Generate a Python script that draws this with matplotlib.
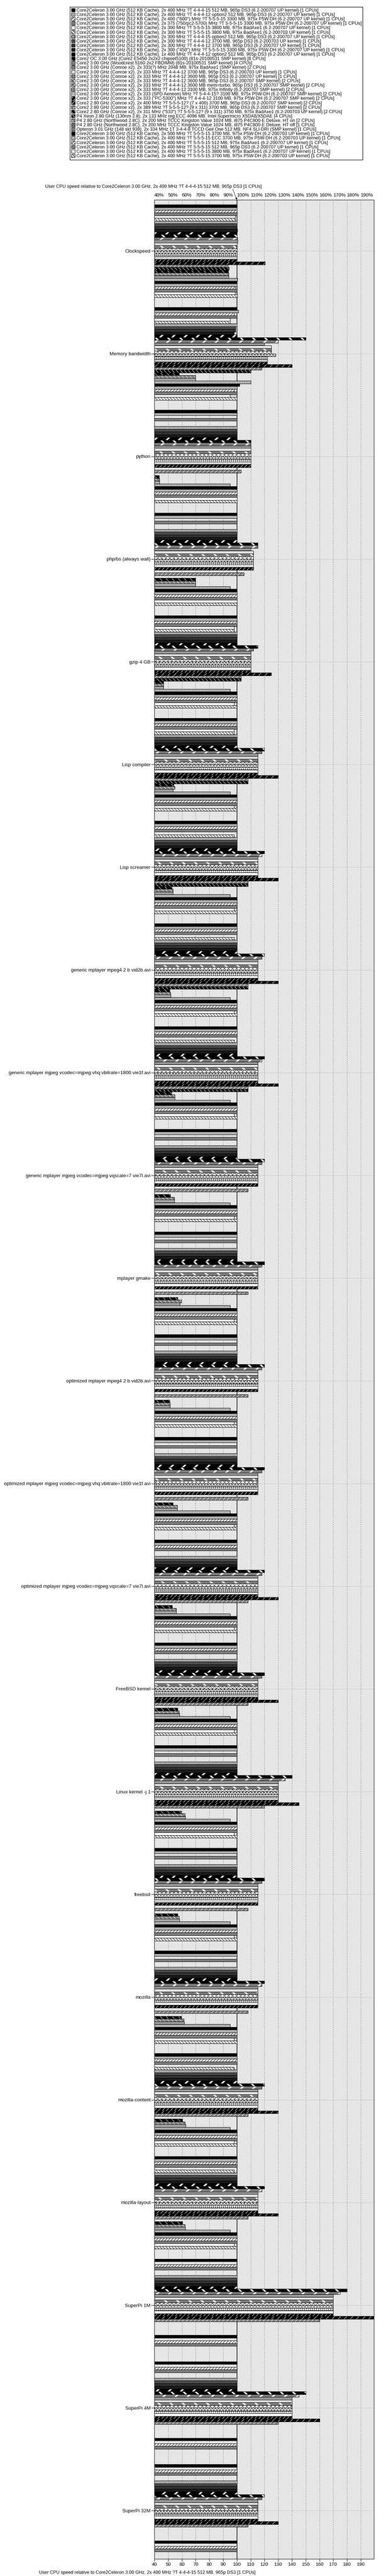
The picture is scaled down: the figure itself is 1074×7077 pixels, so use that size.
import numpy as np
import matplotlib.pyplot as plt
from matplotlib.patches import Patch
from matplotlib.legend_handler import HandlerTuple

plt.rcParams['font.family'] = ['Liberation Sans', 'DejaVu Sans']

systems = [
    'Core2Celeron 3.00 GHz (512 KB Cache), 2x 400 MHz ?T 4-4-4-15 512 MB, 965p DS3 (6.2-200707 UP kernel) [1 CPUs]',
    'Core2Celeron 3.00 GHz (512 KB Cache), 2x 400 MHz ?T 4-4-4-12 option2 512 MB, 965p DS3 (6.2-200707 UP kernel) [1 CPUs]',
    'Core2Celeron 3.00 GHz (512 KB Cache), 2x 400 ("600") MHz ?T 5-5-5-15 3300 MB, 975x P5W-DH (6.2-200707 UP kernel) [1 CPUs]',
    'Core2Celeron 3.00 GHz (512 KB Cache), 2x 375 (750/pc2-5700) MHz ?T 5-5-5-15 3300 MB, 975x P5W-DH (6.2-200707 UP kernel) [1 CPUs]',
    'Core2Celeron 3.00 GHz (512 KB Cache), 2x 300 MHz ?T 5-5-5-15 3800 MB, 975x BadAxe1 (6.2-200707 UP kernel) [1 CPUs]',
    'Core2Celeron 3.00 GHz (512 KB Cache), 2x 300 MHz ?T 5-5-5-15 3800 MB, 975x BadAxe1 (6.2-200703 UP kernel) [1 CPUs]',
    'Core2Celeron 3.00 GHz (512 KB Cache), 2x 300 MHz ?T 4-4-4-15 option2 512 MB, 965p DS3 (6.2-200707 UP kernel) [1 CPUs]',
    'Core2Celeron 3.00 GHz (512 KB Cache), 2x 300 MHz ?T 4-4-4-12 3700 MB, 965p DS3 (6.2-200703 UP kernel) [1 CPUs]',
    'Core2Celeron 3.00 GHz (512 KB Cache), 2x 300 MHz ?T 4-4-4-12 3700 MB, 965p DS3 (6.2-200707 UP kernel) [1 CPUs]',
    'Core2Celeron 3.00 GHz (512 KB Cache), 2x 300 ("450") MHz ?T 5-5-5-15 3300 MB, 975x P5W-DH (6.2-200707 UP kernel) [1 CPUs]',
    'Core2Celeron 3.00 GHz (512 KB Cache), 1x 400 MHz ?T 4-4-4-12 option2 512 MB, 965p DS3 (6.2-200707 UP kernel) [1 CPUs]',
    'Core2 OC 3.00 GHz (Core2 E5450 2x2x2 chipset5100) (81s-20100531 SMP kernel) [8 CPUs]',
    'Core2 3.00 GHz (Woodcrest 5160 2x2 FBDIMM) (81s-20100531 SMP kernel) [4 CPUs]',
    'Core2 3.00 GHz (Conroe x2), 2x 333(?) MHz 2048 MB, 975x BadAxe1 (SMP kernel) [2 CPUs]',
    'Core2 3.00 GHz (Conroe x2), 2x 333 MHz ?T 4-4-4-12 3700 MB, 965p DS3 (6.2-200703 UP kernel) [1 CPUs]',
    'Core2 3.00 GHz (Conroe x2), 2x 333 MHz ?T 4-4-4-12 3600 MB, 965p DS3 (6.2-200707 UP kernel) [1 CPUs]',
    'Core2 3.00 GHz (Conroe x2), 2x 333 MHz ?T 4-4-4-12 3600 MB, 965p DS3 (6.2-200707 SMP kernel) [2 CPUs]',
    'Core2 3.00 GHz (Conroe x2), 2x 333 MHz ?T 4-4-4-12 3600 MB mem=turbo, 965p DS3 (6.2-200707 SMP kernel) [2 CPUs]',
    'Core2 3.00 GHz (Conroe x2), 2x 333 MHz ?T 4-4-4-12 3100 MB, 975x Infinity (6.2-200707 SMP kernel) [2 CPUs]',
    'Core2 3.00 GHz (Conroe x2), 2x 333 (SPD Aeneon) MHz ?T 5-4-4-15? 3100 MB, 975x P5W-DH (6.2-200707 SMP kernel) [2 CPUs]',
    'Core2 3.00 GHz (Conroe x2), 2x 333 ("PC-5300") MHz ?T 4-4-4-12 3100 MB, 975x P5W-DH (6.2-200707 SMP kernel) [2 CPUs]',
    'Core2 2.80 GHz (Conroe x2), 2x 400 MHz ?T 5-5-5-12? (7 x 400) 3700 MB, 965p DS3 (6.2-200707 SMP kernel) [2 CPUs]',
    'Core2 2.80 GHz (Conroe x2), 2x 389 MHz ?T 5-5-5-12? (9 x 311) 3700 MB, 965p DS3 (6.2-200707 SMP kernel) [2 CPUs]',
    'Core2 2.80 GHz (Conroe x2), 2x 311 MHz ("533") ?T 5-5-5-12? (9 x 311) 3750 MB, 975x BadAxe1 (6.2-200703 UP kernel) [2 CPUs]',
    'P4 Xeon 2.80 GHz (130nm 2.8), 2x 133 MHz reg ECC 4096 MB, Intel Supermicro X5DA8/X5DAE [4 CPUs]',
    'P4 2.80 GHz (Northwood 2.8C), 2x 200 MHz TCCC Kingston Value 1024 MB, i875 P4C800-E Deluxe, HT on [2 CPUs]',
    'P4 2.80 GHz (Northwood 2.8C), 2x 200 MHz TCCC Kingston Value 1024 MB, i875 P4C800-E Deluxe, HT off [1 CPUs]',
    'Opteron 3.01 GHz (148 skt 939), 2x 334 MHz 1T 3-4-4-8 TCCD Geil One 512 MB, NF4 SLI-DRI (SMP kernel) [1 CPUs]',
    'Core2Celeron 3.00 GHz (512 KB Cache), 2x 500 MHz ?T 5-5-5-15 3700 MB, 975x P5W-DH (6.2-200703 UP kernel) [1 CPUs]',
    'Core2Celeron 3.00 GHz (512 KB Cache), 2x 400 MHz ?T 5-5-5-15 ECC 3700 MB, 975x P5W-DH (6.2-200703 UP kernel) [1 CPUs]',
    'Core2Celeron 3.00 GHz (512 KB Cache), 2x 400 MHz ?T 5-5-5-15 512 MB, 975x BadAxe1 (6.2-200707 UP kernel) [1 CPUs]',
    'Core2Celeron 3.00 GHz (512 KB Cache), 2x 400 MHz ?T 5-5-5-15 512 MB, 965p DS3 (6.2-200707 UP kernel) [1 CPUs]',
    'Core2Celeron 3.00 GHz (512 KB Cache), 2x 400 MHz ?T 5-5-5-15 3800 MB, 975x BadAxe1 (6.2-200707 UP kernel) [1 CPUs]',
    'Core2Celeron 3.00 GHz (512 KB Cache), 2x 400 MHz ?T 5-5-5-15 3700 MB, 975x P5W-DH (6.2-200703 UP kernel) [1 CPUs]',
]

categories = [
    'Clockspeed', 'Memory bandwidth', 'python', 'php/bs (always wall)', 'gzip 4 GB',
    'Lisp compiler', 'Lisp screamer', 'generic mplayer mpeg4 2 b vid2b.avi',
    'generic mplayer mjpeg vcodec=mjpeg:vhq:vbitrate=1800 vie1f.avi',
    'generic mplayer mjpeg vcodec=mjpeg:vqscale=7 vie7l.avi', 'mplayer gmake',
    'optimized mplayer mpeg4 2 b vid2b.avi',
    'optimized mplayer mjpeg vcodec=mjpeg:vhq:vbitrate=1800 vie1f.avi',
    'optimized mplayer mjpeg vcodec=mjpeg:vqscale=7 vie7l.avi', 'FreeBSD kernel',
    'Linux kernel -j 1', 'freebsd', 'mozilla', 'mozilla-content', 'mozilla-layout',
    'SuperPi 1M', 'SuperPi 4M', 'SuperPi 32M',
]

na = np.nan
# values in percent, one list per benchmark, in legend order
clockspeed = [100, 100, 100, 100, 98.6, 98.6, 100, 100, 100, 100.3, 100, 100, 100.3, 100.5, 100, 99.7, 100,
              100, 100, 100, 100, 120.4, 93.5, 94.3, 93.7, 93.9, 93.9, 100.3, 100, 100, 98.6, 100, 98.6, 100.3]
memory_bw = [100, 101, 98, 100, 95, 95, 100, 99, 99, 98, 100, 150, 130, 120, 125, 125, 125, 128, 122, 122,
             122, 140, 118, 110, 58, 70, 70, 110, 102, 100, 98, 100, 95, 100]
python_ = [100, 100, na, 100, na, na, 100, 100, 100, 100, 100, 110, 110, 110, 110, 110, 110, 110, 110, 110,
           110, na, 103, na, 43.4, 43.7, 43.7, 95, 100, 100, 100, 100, 100, 100]
php_bs = [100, 100, na, 100, na, na, 100, 100, 100, 100, 100, 115, 115, 110, 112, 112, 112, 112, 112, 112,
          112, na, 105, na, 70, 70, 70, 95, 100, 100, 100, 100, 100, 100]
gzip_4gb = [100, 100, 100, 100, 98, 98, 100, 100, 100, 100, 100, 115, 112, 110, 110, 110, 110, 110, 110, 110,
            110, 125, 103, 103, 46.6, 46.6, 46.6, 95, 100, 100, 100, 100, 98, 100]
lisp_compiler = [100, 100, 100, 100, 98, 98, 100, 100, 100, 100, 100, 120, 118, 115, 115, 115, 115, 115, 115,
                 115, 115, 130, 108, 108, 53.9, 54.8, 53.4, 95, 100, 100, 100, 100, 98, 100]
lisp_screamer = [100, 100, 100, 100, na, 98, 100, 100, 100, 100, 100, 120, 118, 115, 115, 115, 115, 115, 115,
                 115, 115, 130, 108, 108, 52.6, 53.5, 53.5, 95, 100, 100, 100, 100, 98, 100]
gen_mpeg4 = [100, 100, 100, 100, na, 98, 100, 100, 100, 100, 100, 120, 118, 115, 115, 115, 115, 115, 115,
             115, 115, 130, 108, 108, 51.0, 51.7, 52.0, 95, 100, 100, 100, 100, 98, 100]
gen_mjpeg_vhq = [100, 100, 100, 100, na, 98, 100, 100, 100, 100, 100, 120, 118, 115, 115, 115, 115, 115, 115,
                 115, 115, 130, 108, 108, 52.4, 54.9, 54.9, 95, 100, 100, 100, 100, 98, 100]
gen_mjpeg_q7 = [100, 100, na, 100, na, na, 100, 100, 100, 100, 100, 120, 118, 115, 115, 115, 115, 115, 115,
                115, 115, na, 108, na, 51.7, 54.6, 54.6, 95, 100, 100, 100, 100, 98, 100]
mplayer_gmake = [100, 100, na, 100, na, na, 100, 100, 100, 100, 100, 120, 118, 115, 115, 115, 115, 115, 115,
                 115, 115, na, 108, na, 56.9, 59.5, 58.4, 95, 100, 100, 100, 100, 98, 100]
opt_mpeg4 = [100, 100, na, 100, na, na, 100, 100, 100, 100, 100, 120, 118, 115, 115, 115, 115, 115, 115,
             115, 115, na, 108, na, 51.0, 51.3, 51.3, 95, 100, 100, 100, 100, 98, 100]
opt_mjpeg_vhq = [100, 100, na, 100, na, na, 100, 100, 100, 100, 100, 120, 118, 115, 115, 115, 115, 115, 115,
                 115, 115, na, 108, na, 53.5, 56.6, 56.6, 95, 100, 100, 100, 100, 98, 100]
opt_mjpeg_q7 = [100, 100, 100, 100, na, na, 100, 100, 100, 100, 100, 120, 118, 115, 115, 115, 115, 115, 115,
                115, 115, 130, 108, na, 52.9, 56.0, 56.0, 95, 100, 100, 100, 100, 98, 100]
freebsd_kernel = [100, 100, 100, 100, na, na, 100, 100, 100, 100, 100, 120, 118, 115, 115, 115, 115, 115, 115,
                  115, 115, 130, 108, na, 56.9, 57.9, 58.2, 95, 100, 100, 100, 100, 98, 100]
linux_kernel = [100, 100, na, 100, na, na, 100, 100, 100, 100, 100, 140, 135, 130, 130, 130, 130, 130, 130,
                130, 130, 145, 120, na, 59.6, 62.1, 62.4, 95, 100, 100, 100, 100, 98, 100]
freebsd = [100, 100, na, 100, na, na, 100, 100, 100, 100, 100, 120, 118, 115, 115, 115, 115, 115, 115,
           115, 115, na, 108, na, 56.9, 57.9, 58.2, 95, 100, 100, 100, 100, 98, 100]
mozilla = [100, 100, na, 100, na, na, 100, 100, 100, 100, 100, 120, 118, 115, 115, 115, 115, 115, 115,
           115, 115, na, 108, na, 59.6, 61.4, 61.7, 95, 100, 100, 100, 100, 98, 100]
mozilla_content = [100, 100, 100, 100, na, 98, 100, 100, 100, 100, 100, 120, 118, 115, 115, 115, 115, 115,
                   115, 115, 115, 130, 108, na, 60.4, 62.1, 62.7, 95, 100, 100, 100, 100, 98, 100]
mozilla_layout = [100, 100, 100, 100, na, 98, 100, 100, 100, 100, 100, 120, 118, 115, 115, 115, 115, 115,
                  115, 115, 115, 130, 108, na, 60.4, 62.1, 62.4, 95, 100, 100, 100, 100, 98, 100]
superpi_1m = [100, na, 100, 100, na, na, 100, 100, 100, 100, 100, 180, 175, 170, 170, 170, 170, 170, 170,
              170, 170, 200, 160, na, na, na, na, na, 100, na, 100, 100, na, na]
superpi_4m = [100, na, 100, 100, na, na, 100, 100, 100, 100, 100, 150, 145, 140, 140, 140, 140, 140, 140,
              140, 140, 160, 130, na, na, na, na, na, 100, na, 100, 100, na, na]
superpi_32m = [100, na, 100, 100, na, na, 100, 100, 100, 100, 100, 120, 118, 115, 115, 115, 115, 115, 115,
               115, 115, 130, 108, na, na, na, na, na, 100, na, 100, 100, na, na]

data = [clockspeed, memory_bw, python_, php_bs, gzip_4gb, lisp_compiler, lisp_screamer, gen_mpeg4,
        gen_mjpeg_vhq, gen_mjpeg_q7, mplayer_gmake, opt_mpeg4, opt_mjpeg_vhq, opt_mjpeg_q7,
        freebsd_kernel, linux_kernel, freebsd, mozilla, mozilla_content, mozilla_layout,
        superpi_1m, superpi_4m, superpi_32m]

# fill, hatch colour, hatch, hatch line width
base_styles = [
    ('black', None, '', 1), ('#b3b3b3', None, '', 1), ('white', 'black', '////', 0.8),
    ('#7f7f7f', None, '', 1), ('white', None, '', 1), ('white', 'black', '\\\\\\\\', 0.8),
    ('white', 'black', '|||||', 0.8), ('#4d4d4d', None, '', 1), ('#333333', None, '', 1),
    ('#1a1a1a', None, '', 1), ('black', 'white', '/', 3.0), ('black', 'white', '\\', 3.0),
    ('#7f7f7f', 'white', '/', 3.0), ('white', 'black', '------', 0.8), ('#e5e5e5', None, '', 1),
    ('#7f7f7f', 'white', '\\', 3.0), ('white', 'black', 'xxx', 0.6), ('white', 'black', 'xxxx', 0.6),
    ('white', 'black', '+++', 0.6), ('white', 'black', '-', 0.6), ('black', 'white', '///', 0.8),
    ('black', 'white', '//', 0.8), ('#7f7f7f', 'white', '///', 0.8), ('black', 'white', '\\\\\\', 0.8),
    ('black', 'white', '\\\\', 0.8), ('#7f7f7f', 'white', '\\\\\\', 0.8), ('white', 'black', '-------', 0.6),
    ('white', 'black', '||||||', 0.6),
]
styles = [base_styles[k % len(base_styles)] for k in range(len(systems))]

W, H = 1074, 7077
fig = plt.figure(figsize=(W / 100, H / 100), dpi=100)
px_l, px_r, px_t, px_b = 424, 1027, 549, 7030
ax = fig.add_axes([px_l / W, 1 - px_b / H, (px_r - px_l) / W, (px_b - px_t) / H])

pitch = 37.68
nser = len(systems)
ncat = len(categories)
centers = np.arange(ncat) * pitch
ax.set_xlim(40, 199.5)
ax.set_ylim(centers[-1] + nser / 2 + 0.7, -nser / 2 - 1.74)
ax.set_facecolor('#e5e5e5')

for x in range(50, 200, 10):
    if x != 100:
        ax.axvline(x, color='#7a7a7a', ls=(0, (3, 3)), lw=0.7, zorder=0.5)
for c in centers:
    ax.axhline(c, color='#9a9a9a', ls=(0, (1, 1.5)), lw=0.7, zorder=0.5)
ax.axvline(100, color='black', lw=1.2, zorder=1)

handles = []
for j in range(nser):
    face, hcol, hatch, hlw = styles[j]
    ys = centers + (j - nser / 2 + 0.5)
    vals = np.array([d[j] for d in data], dtype=float)
    ok = ~np.isnan(vals)
    with plt.rc_context({'hatch.linewidth': hlw}):
        ax.barh(ys[ok], vals[ok] - 40, left=40, height=1, color=face,
                edgecolor=hcol if hatch else face, hatch=hatch or None, lw=0, zorder=2)
        h1 = Patch(facecolor=face, edgecolor=hcol if hatch else face, hatch=hatch or None, lw=0)
    ax.barh(ys[ok], vals[ok] - 40, left=40, height=1, fill=False, edgecolor='black', lw=0.8, zorder=3)
    h2 = Patch(fill=False, edgecolor='black', lw=0.8)
    handles.append((h1, h2))

ax.set_yticks(centers, categories)
ax.tick_params(axis='y', length=6.5, width=0.8, labelsize=9.6, pad=1)
ticks = list(range(40, 200, 10))
ax.set_xticks(ticks, [str(t) for t in ticks])
ax.tick_params(axis='x', length=5, width=0.8, labelsize=9.6, pad=2)
top = ax.secondary_xaxis('top')
top.set_xticks(ticks, [f'{t}%' for t in ticks])
top.tick_params(length=0, labelsize=9.6, pad=4)
for lab in top.get_xticklabels():
    lab.set_ha('left')
for s in ax.spines.values():
    s.set_linewidth(0.8)
top.spines['top'].set_visible(False)

title = 'User CPU speed relative to Core2Celeron 3.00 GHz, 2x 400 MHz ?T 4-4-4-15 512 MB, 965p DS3 [1 CPUs]'
fig.text(124 / W, 1 - 513 / H, title, fontsize=9, va='center', ha='left')
fig.text(107 / W, 1 - 7068 / H, title, fontsize=9, va='center', ha='left')
ax.annotate('', xy=(100, 1.0), xycoords=('data', 'axes fraction'),
            xytext=(639 / W, 1 - 519 / H), textcoords='figure fraction',
            arrowprops=dict(arrowstyle='-|>', color='black', lw=0.7, mutation_scale=8, shrinkA=0, shrinkB=0))

fig.legend(handles, systems, handler_map={tuple: HandlerTuple(ndivide=1)},
           loc='upper left', bbox_to_anchor=(192 / W, 1 - 19 / H), fontsize=9,
           frameon=True, fancybox=False, edgecolor='black', framealpha=1,
           handlelength=0.8, handleheight=0.8, handletextpad=0.3, labelspacing=0.0,
           borderpad=0.3, borderaxespad=0)

fig.savefig('out.png', dpi=100)
